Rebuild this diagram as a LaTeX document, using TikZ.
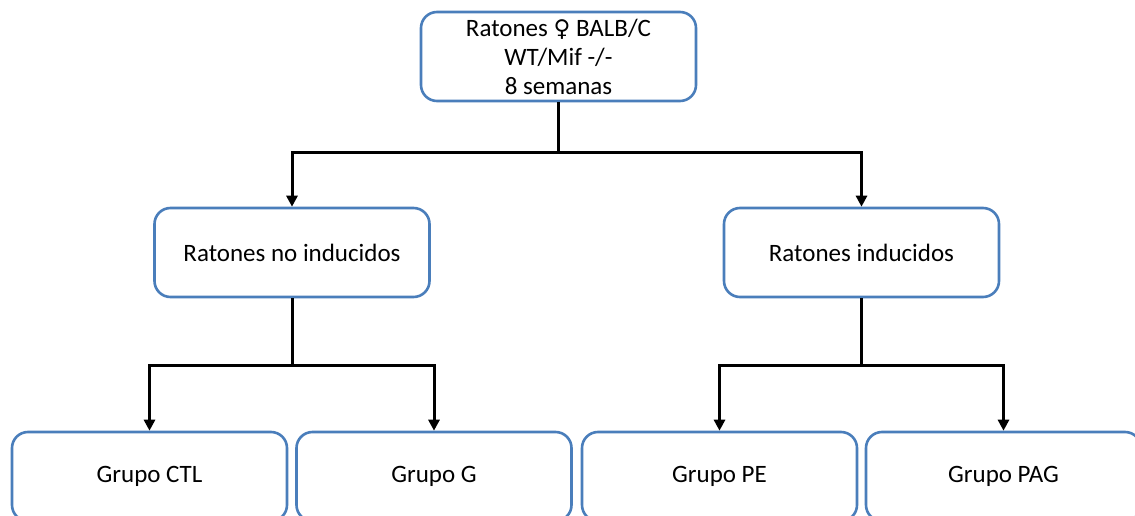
\documentclass[tikz,border=0pt]{standalone}
\usepackage{fontspec}
\setmainfont{Carlito}
\newfontfamily\symfont{DejaVu Sans}
\usetikzlibrary{arrows.meta}
\definecolor{boxblue}{HTML}{4A7EBB}
\tikzset{
  box/.style={draw=boxblue, line width=2.6pt, rounded corners=16pt, fill=white,
    minimum width=275pt, minimum height=89pt, align=center, inner sep=0pt,
    font=\fontsize{25}{29}\selectfont},
  conn/.style={draw=black, line width=3pt},
  arr/.style={conn, -{Triangle[length=11pt,width=11pt]}}
}
\begin{document}
\begin{tikzpicture}[x=1pt,y=-1pt]
\useasboundingbox (0,0) rectangle (1135,516);
\clip (0,0) rectangle (1135,516);
\node[box] (top) at (558.5,56.5) {Ratones {\symfont\fontsize{23}{29}\selectfont ♀} BALB/C\\WT/Mif -/-\\8 semanas};
\node[box] (ml) at (292,252.5) {Ratones no inducidos};
\node[box] (mr) at (861.5,252.5) {Ratones inducidos};
\node[box] (b1) at (149.5,476.5) {Grupo CTL};
\node[box] (b2) at (434,476.5) {Grupo G};
\node[box] (b3) at (719.5,476.5) {Grupo PE};
\node[box] (b4) at (1003.5,476.5) {Grupo PAG};
\coordinate (j1) at (558.5,153);
\coordinate (j2) at (292,365);
\coordinate (j3) at (861.5,365);
\draw[conn] (top.south) -- (j1);
\draw[arr] (j1) -| (ml.north);
\draw[arr] (j1) -| (mr.north);
\draw[conn] (ml.south) -- (j2);
\draw[arr] (j2) -| (b1.north);
\draw[arr] (j2) -| (b2.north);
\draw[conn] (mr.south) -- (j3);
\draw[arr] (j3) -| (b3.north);
\draw[arr] (j3) -| (b4.north);
\end{tikzpicture}
\end{document}
